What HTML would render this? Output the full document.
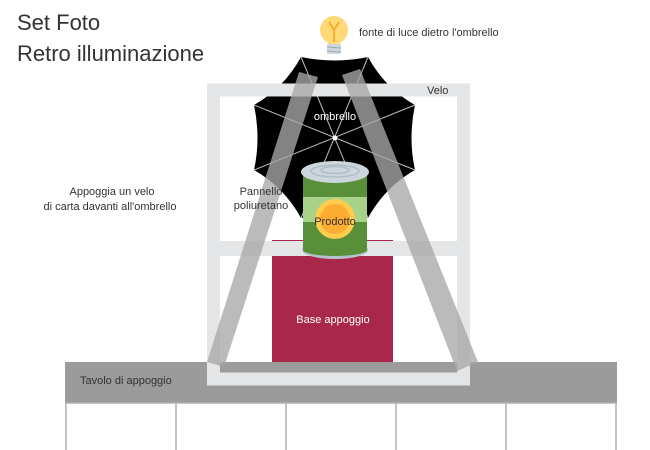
<!DOCTYPE html>
<html><head><meta charset="utf-8"><style>
html,body{margin:0;padding:0;background:#fff;}
svg{display:block;font-family:"Liberation Sans",sans-serif;}
</style></head><body>
<svg width="650" height="450" viewBox="0 0 650 450" xmlns="http://www.w3.org/2000/svg">
<text x="17" y="30" font-size="22" fill="#333" font-weight="300">Set Foto</text>
<text x="17" y="61" font-size="22" fill="#333" font-weight="300">Retro illuminazione</text>
<text x="112" y="195" font-size="11" fill="#333" text-anchor="middle">Appoggia un velo</text>
<text x="110" y="210" font-size="11" fill="#333" text-anchor="middle">di carta davanti all'ombrello</text>
<text x="359" y="36" font-size="11" fill="#333">fonte di luce dietro l'ombrello</text>

<!-- table -->
<rect x="65" y="362" width="552" height="41" fill="#9b9b9b"/>
<g stroke="#b0b0b0" stroke-width="1.5">
<line x1="66" y1="403" x2="66" y2="450"/><line x1="176" y1="403" x2="176" y2="450"/>
<line x1="286" y1="403" x2="286" y2="450"/><line x1="396" y1="403" x2="396" y2="450"/>
<line x1="506" y1="403" x2="506" y2="450"/><line x1="616" y1="403" x2="616" y2="450"/>
<line x1="65" y1="403" x2="617" y2="403"/>
</g>
<text x="80" y="384" font-size="11" fill="#333">Tavolo di appoggio</text>

<!-- base -->
<rect x="272" y="240" width="121" height="122" fill="#a9274a"/>
<text x="333" y="323" font-size="11" fill="#fff" text-anchor="middle">Base appoggio</text>

<!-- umbrella -->
<path d="M301,57 Q335,64 368,57 Q385,88 415,105 Q408,138 415,170 Q385,187 368,218 Q335,211 301,218 Q284,187 254,170 Q261,138 254,105 Q284,88 301,57 Z" fill="#000"/>
<g stroke="#bbb" stroke-width="1">
<line x1="301" y1="57" x2="368" y2="218"/><line x1="368" y1="57" x2="301" y2="218"/>
<line x1="254" y1="105" x2="415" y2="170"/><line x1="415" y1="105" x2="254" y2="170"/>
</g>
<circle cx="335" cy="138" r="2.5" fill="#fff"/>
<text x="335" y="120" font-size="11" fill="#fff" text-anchor="middle">ombrello</text>

<!-- frame -->
<rect x="213.5" y="90" width="250" height="289" fill="none" stroke="#e4e5e7" stroke-width="13"/>
<rect x="213" y="241" width="251" height="15" fill="#e4e5e7"/>
<text x="427" y="94" font-size="11" fill="#333">Velo</text>

<!-- bulb -->
<circle cx="334" cy="30" r="14" fill="#ffd975"/>
<path d="M326,36 L342,36 L340,44 L328,44 Z" fill="#ffd975"/>
<path d="M329,22 L334,30 L339,22 M334,30 L334,42" stroke="#f4ae2c" stroke-width="2" fill="none"/>
<rect x="327" y="44" width="14" height="10" rx="2" fill="#ccd6dd"/>
<line x1="327" y1="47" x2="341" y2="48" stroke="#99aab5" stroke-width="1"/>
<line x1="327" y1="51" x2="341" y2="52" stroke="#99aab5" stroke-width="1"/>

<!-- can -->
<ellipse cx="335" cy="250" rx="33" ry="9" fill="#b6c3cc"/>
<rect x="303" y="172" width="64" height="78" fill="#5a8f3a"/>
<ellipse cx="335" cy="250" rx="32" ry="6" fill="#5a8f3a"/>
<rect x="303" y="197" width="64" height="25" fill="#a6d388"/>
<circle cx="335" cy="219" r="20" fill="#ffcc4d"/>
<circle cx="335" cy="219" r="15" fill="#ffac33"/>
<ellipse cx="335" cy="172" rx="34" ry="11" fill="#ccd6dd"/>
<ellipse cx="335" cy="171" rx="24" ry="6" fill="none" stroke="#b0bec5" stroke-width="1.5"/>
<ellipse cx="335" cy="170" rx="14" ry="3.5" fill="none" stroke="#b0bec5" stroke-width="1.5"/>
<text x="335" y="225" font-size="11" fill="#333" text-anchor="middle">Prodotto</text>

<!-- panels -->
<polygon points="299,72 318,77 224,367 207,362" fill="#a8a8a8" fill-opacity="0.78"/>
<polygon points="342,75 360,69 478,362 457,371" fill="#a8a8a8" fill-opacity="0.78"/>
<text x="261" y="195" font-size="11" fill="#333" text-anchor="middle">Pannello</text>
<text x="261" y="209" font-size="11" fill="#333" text-anchor="middle">poliuretano</text>
</svg>
</body></html>
